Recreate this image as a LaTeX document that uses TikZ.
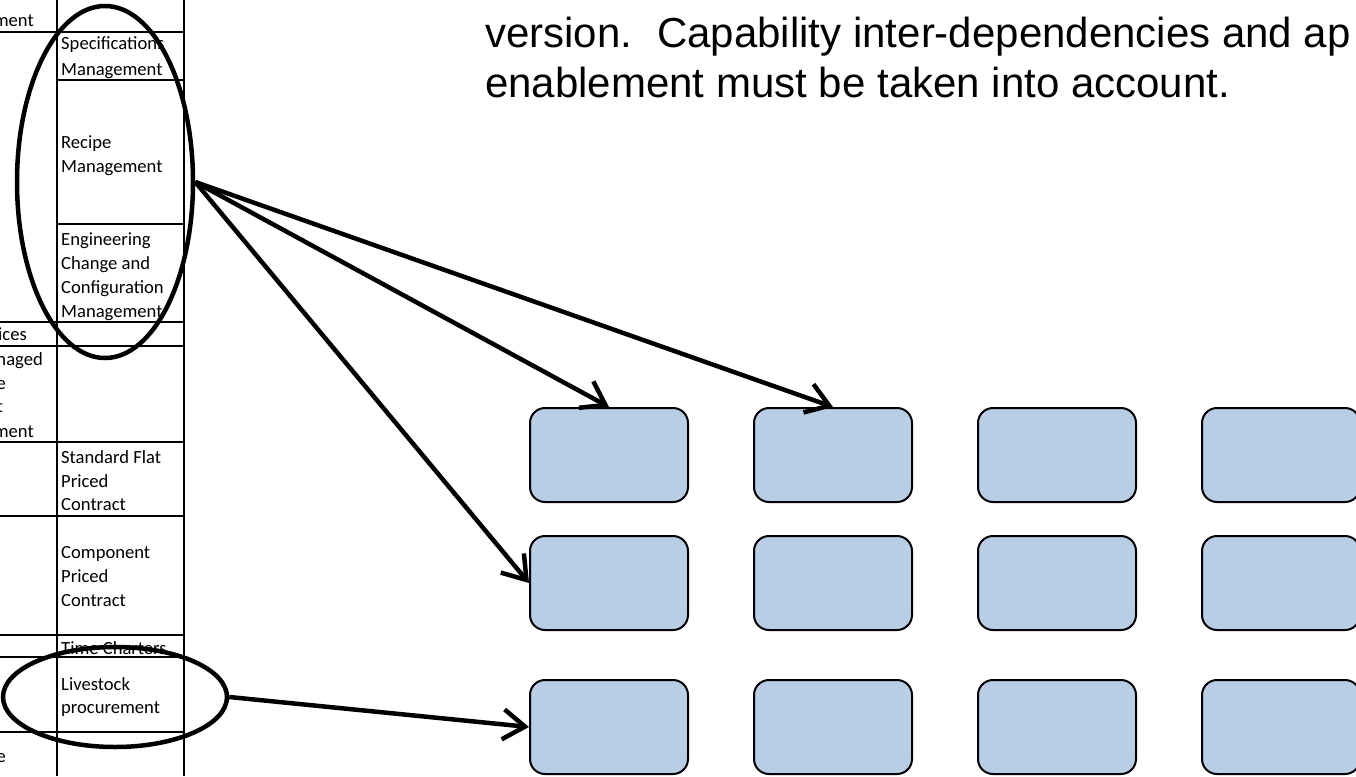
\documentclass[tikz,border=0pt]{standalone}
\usepackage{fontspec}
\setmainfont{Carlito}
\newfontfamily\arialfont{Liberation Sans}
\usetikzlibrary{shapes.geometric,arrows.meta}
\definecolor{boxblue}{RGB}{185,205,229}
\begin{document}
\begin{tikzpicture}[x=1pt,y=-1pt,
  gridline/.style={line width=2.5pt},
  celltext/.style={anchor=base west,inner sep=0pt,font=\fontsize{18.6}{24}\selectfont},
  fragtext/.style={anchor=base east,inner sep=0pt,font=\fontsize{18.6}{24}\selectfont},
  ring/.style={ellipse,draw,line width=4.5pt,inner sep=0pt},
  capbox/.style={draw,fill=boxblue,line width=2pt,rounded corners=15pt,minimum width=158pt,minimum height=94pt,inner sep=0pt},
  arr/.style={line width=4.5pt,-{Straight Barb[length=22pt,width=30pt]}},
  bigtext/.style={anchor=base west,inner sep=0pt,font=\arialfont\fontsize{42}{49}\selectfont}]
\useasboundingbox (0,0) rectangle (1356,776);
\begin{scope}
\clip (0,0) rectangle (1356,776);
% table grid
\draw[gridline] (57,0) -- (57,776);
\draw[gridline] (184,0) -- (184,776);
\foreach \yy in {32,322,346,442,516,635,657,732}
  \draw[gridline] (0,\yy) -- (184,\yy);
\foreach \yy in {80,224}
  \draw[gridline] (57,\yy) -- (184,\yy);
% left column fragments
\node[fragtext] (f1) at (34,27) {ment};
\node[fragtext] (f2) at (27,340) {ices};
\node[fragtext] (f3) at (43,365) {naged};
\node[fragtext] (f4) at (6,389) {e};
\node[fragtext] (f5) at (3,412) {t};
\node[fragtext] (f6) at (34,437) {ment};
\node[fragtext] (f7) at (6,762) {e};
% right column texts
\node[celltext] (c1a) at (61,50) {Specifications};
\node[celltext] (c1b) at (61,75) {Management};
\node[celltext] (c2a) at (61,148) {Recipe};
\node[celltext] (c2b) at (61,172) {Management};
\node[celltext] (c3a) at (61,245) {Engineering};
\node[celltext] (c3b) at (61,269) {Change and};
\node[celltext] (c3c) at (61,293) {Configuration};
\node[celltext] (c3d) at (61,317) {Management};
\node[celltext] (c4a) at (61,463) {Standard Flat};
\node[celltext] (c4b) at (61,487) {Priced};
\node[celltext] (c4c) at (61,510) {Contract};
\node[celltext] (c5a) at (61,558) {Component};
\node[celltext] (c5b) at (61,582) {Priced};
\node[celltext] (c5c) at (61,606) {Contract};
\begin{scope}
\clip (58,636) rectangle (183,656);
\node[celltext] (c6) at (61,654) {Time Charters};
\end{scope}
\node[celltext] (c7a) at (61,690) {Livestock};
\node[celltext] (c7b) at (61,713) {procurement};
% ellipses
\node[ring,minimum width=176pt,minimum height=352pt] (e1) at (105,182) {};
\node[ring,minimum width=224pt,minimum height=100pt] (e2) at (115,697) {};
% boxes
\foreach \r/\yy in {1/455,2/583,3/727}
  \foreach \c/\xx in {1/609,2/833,3/1057,4/1281}
    \node[capbox] (b\r\c) at (\xx,\yy) {};
% arrows
\draw[arr] (e1.east) -- (b12.north);
\draw[arr] (e1.east) -- (b11.north);
\draw[arr] (e1.east) -- (b21.west);
\draw[arr] (e2.east) -- (b31.west);
% top text
\node[bigtext] (t1) at (485,48) {version.\hspace{25pt}Capability inter-dependencies and ap};
\node[bigtext] (t2) at (485,97) {enablement must be taken into account.};
\end{scope}
\end{tikzpicture}
\end{document}
